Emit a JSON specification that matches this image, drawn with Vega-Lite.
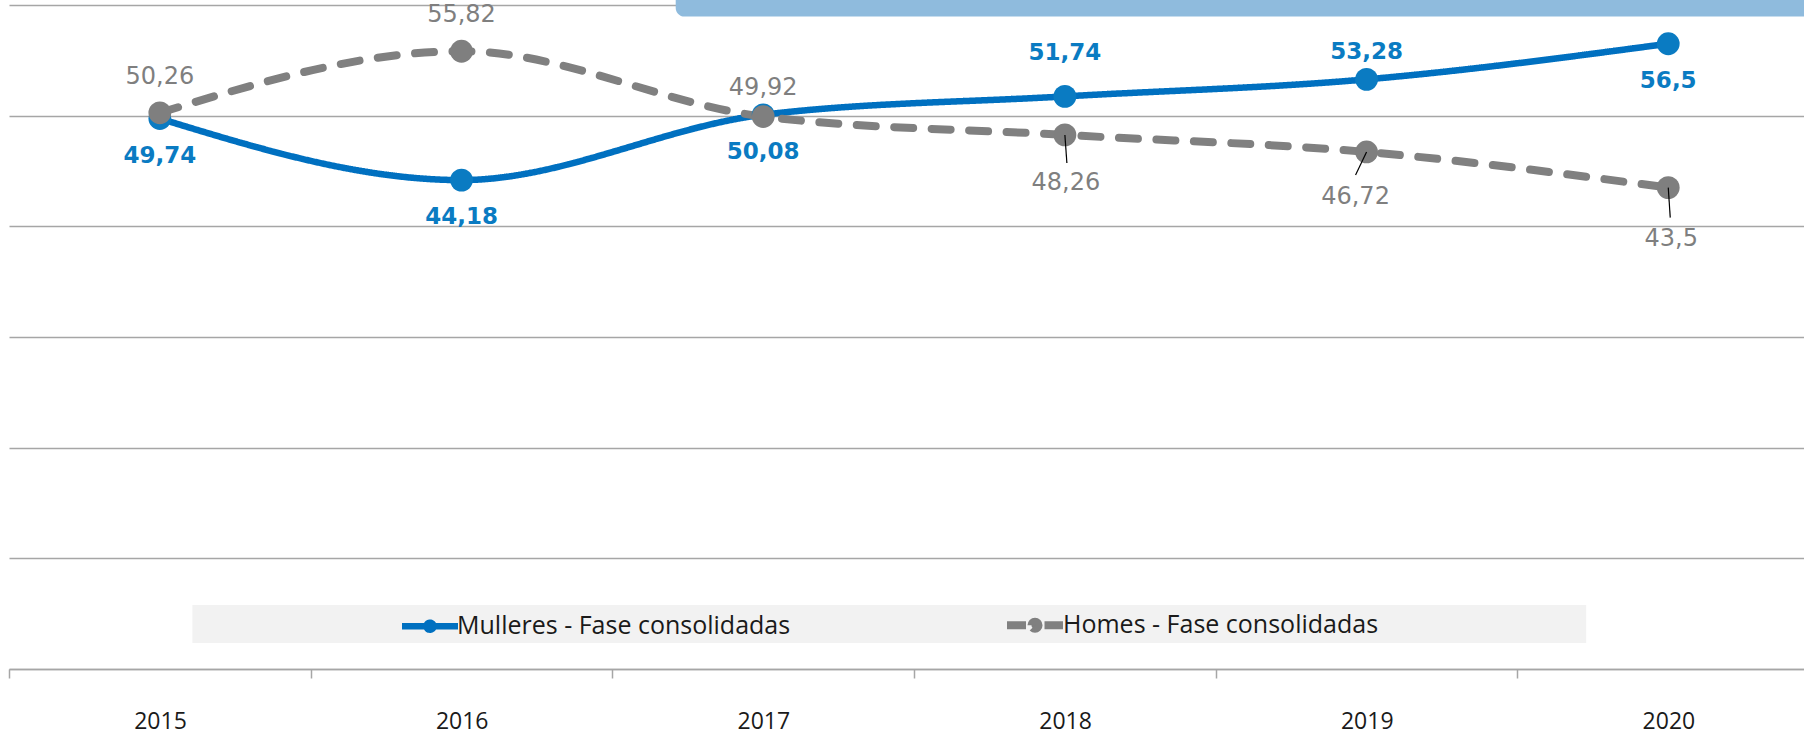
{
  "$schema": "https://vega.github.io/schema/vega-lite/v6.json",
  "width": 1795,
  "height": 664,
  "autosize": {"type": "none"},
  "padding": {"left": 9, "top": 5, "right": 0, "bottom": 65},
  "config": {
    "view": {"stroke": null},
    "locale": {"number": {"decimal": ",", "thousands": ".", "grouping": [3], "currency": ["", " €"]}}
  },
  "data": {
    "values": [
      {"ano": 2015, "serie": "Mulleres - Fase consolidadas", "valor": 49.74},
      {"ano": 2016, "serie": "Mulleres - Fase consolidadas", "valor": 44.18},
      {"ano": 2017, "serie": "Mulleres - Fase consolidadas", "valor": 50.08},
      {"ano": 2018, "serie": "Mulleres - Fase consolidadas", "valor": 51.74},
      {"ano": 2019, "serie": "Mulleres - Fase consolidadas", "valor": 53.28},
      {"ano": 2020, "serie": "Mulleres - Fase consolidadas", "valor": 56.5},
      {"ano": 2015, "serie": "Homes - Fase consolidadas", "valor": 50.26},
      {"ano": 2016, "serie": "Homes - Fase consolidadas", "valor": 55.82},
      {"ano": 2017, "serie": "Homes - Fase consolidadas", "valor": 49.92},
      {"ano": 2018, "serie": "Homes - Fase consolidadas", "valor": 48.26},
      {"ano": 2019, "serie": "Homes - Fase consolidadas", "valor": 46.72},
      {"ano": 2020, "serie": "Homes - Fase consolidadas", "valor": 43.5}
    ]
  },
  "layer": [
    {
      "data": {"values": [{"caixa": "lenda"}]},
      "mark": {"type": "rect", "color": "#f2f2f2"},
      "encoding": {
        "x": {"datum": 2015.108, "type": "quantitative"},
        "x2": {"datum": 2019.728},
        "y": {"datum": 5.78, "type": "quantitative"},
        "y2": {"datum": 2.35}
      }
    },
    {
      "data": {"values": [{"caixa": "cabeceira"}]},
      "mark": {"type": "rect", "color": "#8fbbdd", "cornerRadiusBottomLeft": 13, "clip": false},
      "encoding": {
        "x": {"datum": 2016.71, "type": "quantitative"},
        "x2": {"datum": 2020.45},
        "y": {"datum": 60.5, "type": "quantitative"},
        "y2": {"datum": 58.95}
      }
    },
    {
      "encoding": {
        "x": {
          "field": "ano", "type": "quantitative",
          "scale": {"domain": [2014.5, 2020.45], "nice": false, "zero": false},
          "axis": {
            "title": null,
            "values": [2014.5, 2015.5, 2016.5, 2017.5, 2018.5, 2019.5],
            "labelExpr": "format(datum.value + 0.5, 'd')",
            "labelOffset": 151,
            "labelFlush": false,
            "labelOverlap": false,
            "labelBound": false,
            "grid": false,
            "tickSize": 9,
            "tickColor": "#a6a6a6",
            "tickWidth": 1.5,
            "domainColor": "#a6a6a6",
            "domainWidth": 1.5,
            "labelFont": "Open Sans",
            "labelFontSize": 23,
            "labelColor": "#1a1a1a",
            "labelPadding": 32
          }
        },
        "y": {
          "field": "valor", "type": "quantitative",
          "scale": {"domain": [0, 60], "nice": false, "zero": true},
          "axis": {
            "title": null,
            "values": [0, 10, 20, 30, 40, 50, 60],
            "labels": false, "ticks": false, "domain": false,
            "grid": true, "gridColor": "#a6a6a6", "gridWidth": 1.5
          }
        }
      },
      "layer": [
        {
          "mark": {"type": "line", "interpolate": "monotone", "strokeCap": "round"},
          "encoding": {
            "color": {
              "field": "serie", "type": "nominal",
              "scale": {"domain": ["Mulleres - Fase consolidadas", "Homes - Fase consolidadas"], "range": ["#0070c0", "#808080"]},
              "legend": {
                "title": null,
                "orient": "none",
                "legendX": 399,
                "legendY": 597,
                "direction": "horizontal",
                "padding": 0,
                "symbolType": "M -1.5 0 L 1.5 0 M -0.19 0 A 0.19 0.19 0 1 1 0.19 0 A 0.19 0.19 0 1 1 -0.19 0",
                "symbolSize": 1393,
                "symbolStrokeWidth": 7,
                "labelFont": "Open Sans",
                "labelFontSize": 25,
                "labelColor": "#1a1a1a",
                "labelOffset": 5,
                "labelLimit": 600,
                "columnPadding": 200,
                "encode": {"symbols": {"update": {"fill": {"scale": "color", "field": "value"}, "strokeWidth": {"value": 7}}}}
              }
            },
            "strokeDash": {
              "field": "serie", "type": "nominal",
              "scale": {"domain": ["Mulleres - Fase consolidadas", "Homes - Fase consolidadas"], "range": [[1, 0], [19, 18.5]]},
              "legend": null
            },
            "strokeWidth": {
              "field": "serie", "type": "nominal",
              "scale": {"domain": ["Mulleres - Fase consolidadas", "Homes - Fase consolidadas"], "range": [6.5, 8]},
              "legend": null
            }
          }
        },
        {
          "mark": {"type": "circle", "size": 520, "opacity": 1},
          "encoding": {
            "fill": {
              "field": "serie", "type": "nominal",
              "scale": {"domain": ["Mulleres - Fase consolidadas", "Homes - Fase consolidadas"], "range": ["#0a7bc2", "#7f7f7f"]},
              "legend": null
            }
          }
        },
        {
          "transform": [{"filter": "datum.serie == 'Homes - Fase consolidadas' && datum.ano == 2018"}],
          "mark": {"type": "rule", "color": "#000000", "strokeWidth": 1.2, "x2Offset": 2, "y2Offset": 28},
          "encoding": {"x2": {"field": "ano"}, "y2": {"field": "valor"}}
        },
        {
          "transform": [{"filter": "datum.serie == 'Homes - Fase consolidadas' && datum.ano == 2019"}],
          "mark": {"type": "rule", "color": "#000000", "strokeWidth": 1.2, "x2Offset": -11, "y2Offset": 23},
          "encoding": {"x2": {"field": "ano"}, "y2": {"field": "valor"}}
        },
        {
          "transform": [{"filter": "datum.serie == 'Homes - Fase consolidadas' && datum.ano == 2020"}],
          "mark": {"type": "rule", "color": "#000000", "strokeWidth": 1.2, "x2Offset": 2, "y2Offset": 30},
          "encoding": {"x2": {"field": "ano"}, "y2": {"field": "valor"}}
        },
        {
          "transform": [{"filter": "datum.serie == 'Mulleres - Fase consolidadas' && datum.ano == 2018"}],
          "mark": {"type": "text", "font": "DejaVu Sans", "fontSize": 23, "fontWeight": "bold", "baseline": "middle", "dy": -43, "color": "#0a7bc2"},
          "encoding": {"text": {"field": "valor", "type": "quantitative", "format": "~g"}}
        },
        {
          "transform": [{"filter": "datum.serie == 'Mulleres - Fase consolidadas' && datum.ano == 2019"}],
          "mark": {"type": "text", "font": "DejaVu Sans", "fontSize": 23, "fontWeight": "bold", "baseline": "middle", "dy": -27, "color": "#0a7bc2"},
          "encoding": {"text": {"field": "valor", "type": "quantitative", "format": "~g"}}
        },
        {
          "transform": [{"filter": "datum.serie == 'Mulleres - Fase consolidadas' && (datum.ano <= 2017 || datum.ano == 2020)"}],
          "mark": {"type": "text", "font": "DejaVu Sans", "fontSize": 23, "fontWeight": "bold", "baseline": "middle", "dy": 37, "color": "#0a7bc2"},
          "encoding": {"text": {"field": "valor", "type": "quantitative", "format": "~g"}}
        },
        {
          "transform": [{"filter": "datum.serie == 'Homes - Fase consolidadas' && datum.ano <= 2016"}],
          "mark": {"type": "text", "font": "DejaVu Sans", "fontSize": 24, "baseline": "middle", "dy": -36, "color": "#7f7f7f"},
          "encoding": {"text": {"field": "valor", "type": "quantitative", "format": "~g"}}
        },
        {
          "transform": [{"filter": "datum.serie == 'Homes - Fase consolidadas' && datum.ano == 2017"}],
          "mark": {"type": "text", "font": "DejaVu Sans", "fontSize": 24, "baseline": "middle", "dy": -29, "color": "#7f7f7f"},
          "encoding": {"text": {"field": "valor", "type": "quantitative", "format": "~g"}}
        },
        {
          "transform": [{"filter": "datum.serie == 'Homes - Fase consolidadas' && datum.ano == 2018"}],
          "mark": {"type": "text", "font": "DejaVu Sans", "fontSize": 24, "baseline": "middle", "dx": 1, "dy": 48, "color": "#7f7f7f"},
          "encoding": {"text": {"field": "valor", "type": "quantitative", "format": "~g"}}
        },
        {
          "transform": [{"filter": "datum.serie == 'Homes - Fase consolidadas' && datum.ano == 2019"}],
          "mark": {"type": "text", "font": "DejaVu Sans", "fontSize": 24, "baseline": "middle", "dx": -11, "dy": 45, "color": "#7f7f7f"},
          "encoding": {"text": {"field": "valor", "type": "quantitative", "format": "~g"}}
        },
        {
          "transform": [{"filter": "datum.serie == 'Homes - Fase consolidadas' && datum.ano == 2020"}],
          "mark": {"type": "text", "font": "DejaVu Sans", "fontSize": 24, "baseline": "middle", "dx": 3, "dy": 51, "color": "#7f7f7f"},
          "encoding": {"text": {"field": "valor", "type": "quantitative", "format": "~g"}}
        }
      ]
    }
  ]
}
